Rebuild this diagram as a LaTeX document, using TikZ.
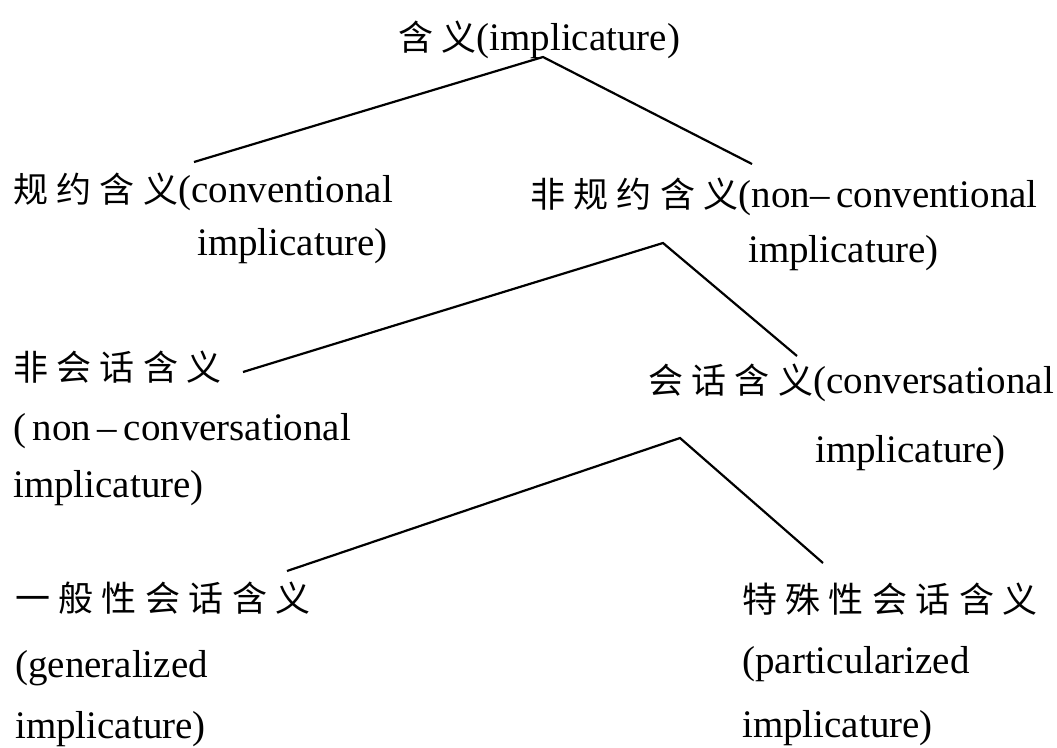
\documentclass[tikz,border=0pt]{standalone}
\usepackage{fontspec}
\setmainfont{Liberation Serif}
\newfontfamily\cjk[LetterSpace=24]{Noto Sans CJK SC}
\begin{document}
\begin{tikzpicture}[x=1pt,y=-1pt,
  lab/.style={anchor=base west,inner sep=0pt,font=\fontsize{39}{42}\selectfont},
  link/.style={line width=2.2pt}]
\useasboundingbox (0,0) rectangle (1057,747);
\newcommand{\zh}[1]{{\fontsize{35}{40}\cjk #1}}
% texts
\node[lab] (top) at (398,50) {\zh{含义}(implicature)};
\node[lab] (conv1) at (13,202) {\zh{规约含义}(conventional};
\node[lab] (conv2) at (197,255) {implicature)};
\node[lab] (nconv1) at (530,207) {\zh{非规约含义}(non–\,conventional};
\node[lab] (nconv2) at (748,262) {implicature)};
\node[lab] (ncs1) at (13,380) {\zh{非会话含义}};
\node[lab] (ncs2) at (13,440) {(\,non\,–\,conversational};
\node[lab] (ncs3) at (13,497) {implicature)};
\node[lab] (cs1) at (648,393) {\zh{会话含义}(conversational};
\node[lab] (cs2) at (815,462) {implicature)};
\node[lab] (gen1) at (15,611) {\zh{一般性会话含义}};
\node[lab] (gen2) at (15,677) {(generalized};
\node[lab] (gen3) at (15,738) {implicature)};
\node[lab] (part1) at (742,612) {\zh{特殊性会话含义}};
\node[lab] (part2) at (742,673) {(particularized};
\node[lab] (part3) at (742,737) {implicature)};
% connector ends
\coordinate (a1) at (543,57);
\coordinate (a1l) at (194,162);
\coordinate (a1r) at (752,164);
\coordinate (a2) at (663,243);
\coordinate (a2l) at (243,372);
\coordinate (a2r) at (797,356);
\coordinate (a3) at (680,438);
\coordinate (a3l) at (287,571);
\coordinate (a3r) at (823,563);
\draw[link] (a1l) -- (a1) -- (a1r);
\draw[link] (a2l) -- (a2) -- (a2r);
\draw[link] (a3l) -- (a3) -- (a3r);
\end{tikzpicture}
\end{document}
